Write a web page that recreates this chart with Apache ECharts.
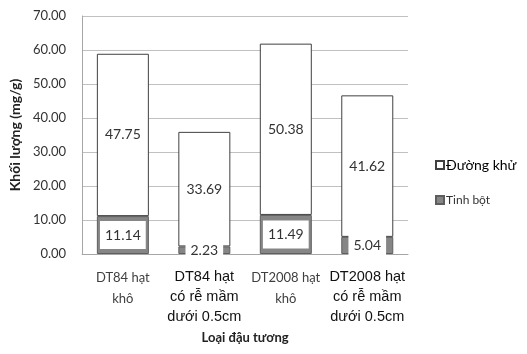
<!DOCTYPE html>
<html><head><meta charset="utf-8">
<script src="https://cdn.jsdelivr.net/npm/echarts@6/dist/echarts.min.js"></script>
<style>html,body{margin:0;padding:0;background:#fff}#c{width:527px;height:354px}</style>
</head><body><div id="c"></div>
<script>
const categories = ["DT84 hạt\nkhô", "DT84 hạt\ncó rễ mầm\ndưới 0.5cm", "DT2008 hạt\nkhô", "DT2008 hạt\ncó rễ mầm\ndưới 0.5cm"];
const starch = [11.14, 2.23, 11.49, 5.04];
const sugar = [47.75, 33.69, 50.38, 41.62];
const yTicks = [0, 10, 20, 30, 40, 50, 60, 70];
const seriesNames = ["Tinh bột", "Đường khử"];

const chart = echarts.init(document.getElementById('c'));
const F = 'Lato, "Noto Sans", sans-serif';
chart.setOption({
  animation: false,
  grid: {left: 81, right: 119, top: 16, bottom: 100},
  legend: {
    orient: 'vertical', left: 430, top: 153, itemWidth: 8, itemHeight: 8, itemGap: 22,
    icon: 'rect',
    data: [seriesNames[1], seriesNames[0]],
    formatter: n => n === seriesNames[1] ? '{a|' + n + '}' : '{b|' + n + '}',
    textStyle: {rich: {
      a: {fontFamily: F, fontSize: 14, color: '#000', padding: [0, 0, 0, -3]},
      b: {fontFamily: F, fontSize: 12, color: '#333', padding: [0, 0, 0, -3]}
    }}
  },
  xAxis: {
    type: 'category', data: categories,
    axisLine: {lineStyle: {color: '#a6a6a6'}}, axisTick: {show: false},
    axisLabel: {
      interval: 0, margin: 13,
      formatter: (v, i) => (i % 2 === 0 ? '{a|' : '{b|') + v + '}',
      rich: {
        a: {fontFamily: F, fontSize: 13, color: '#404040', lineHeight: 21},
        b: {fontFamily: '"Liberation Sans", Arial, sans-serif', fontSize: 14.5, color: '#111', lineHeight: 20}
      }
    },
    name: 'Loại đậu tương', nameLocation: 'middle', nameGap: 77,
    nameTextStyle: {fontFamily: F, fontSize: 13, fontWeight: 'bold', color: '#222'}
  },
  yAxis: {
    type: 'value', min: yTicks[0], max: yTicks[yTicks.length - 1], interval: 10,
    axisLine: {show: true, lineStyle: {color: '#a6a6a6'}}, axisTick: {show: false},
    splitLine: {lineStyle: {color: '#c0c0c0'}},
    axisLabel: {fontFamily: F, fontSize: 13, color: '#333', margin: 16, formatter: v => v.toFixed(2)},
    name: 'Khối lượng (mg/g)', nameLocation: 'middle', nameGap: 57,
    nameTextStyle: {fontFamily: F, fontSize: 14, fontWeight: 'bold', color: '#222'}
  },
  series: [
    {
      name: seriesNames[0], type: 'bar', stack: 's', data: starch, barWidth: 52,
      itemStyle: {color: '#868686', borderColor: '#5e5e5e', borderWidth: 1},
      label: {show: true, position: 'inside', formatter: p => p.value.toFixed(2),
        fontFamily: F, fontSize: 14, color: '#333', backgroundColor: '#fff', padding: [7, 5]}
    },
    {
      name: seriesNames[1], type: 'bar', stack: 's', data: sugar, barWidth: 52,
      itemStyle: {color: '#fff', borderColor: '#404040', borderWidth: 1},
      label: {show: true, position: 'inside', formatter: p => p.value.toFixed(2),
        fontFamily: F, fontSize: 14, color: '#333'}
    }
  ]
});
</script></body></html>
